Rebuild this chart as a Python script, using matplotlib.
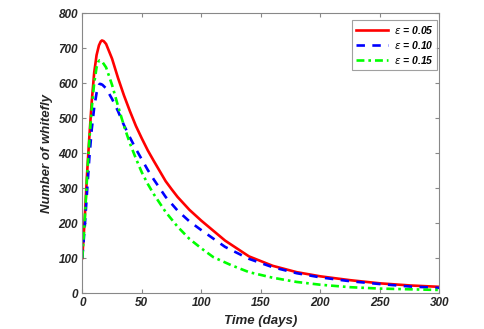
import matplotlib
matplotlib.use("Agg")
import matplotlib.pyplot as plt

# values
t_red = [0, 2, 4, 6, 8, 10, 12, 14, 15.5, 16.5, 18, 20, 25, 30, 35, 40, 45, 50, 55, 60, 70, 75, 80, 90, 100,
         120, 140, 160, 180, 200, 225, 250, 275, 300]
n_red = [100, 210, 340, 450, 550, 630, 680, 708, 719, 722, 720, 712, 670, 615, 565, 520, 478, 442, 408, 378, 320, 297, 275, 238, 207,
         150, 105, 78, 60, 48, 37, 28, 22, 18]

t_blue = [0, 2, 4, 6, 8, 10, 12, 14, 14.8, 16, 17, 20, 25, 30, 35, 40, 45, 50, 55, 60, 70, 80, 90, 100,
          120, 140, 160, 180, 200, 225, 250, 275, 300]
n_blue = [100, 185, 290, 390, 470, 530, 572, 595, 598, 597, 595, 585, 555, 520, 480, 445, 412, 382, 352, 325, 275, 236, 205, 180,
          132, 98, 74, 57, 45, 34, 26, 19, 15]

t_green = [0, 2, 4, 6, 8, 10, 12, 13.5, 14.5, 15.5, 17, 20, 25, 30, 35, 40, 45, 50, 55, 60, 70, 80, 90, 100, 110,
           125, 140, 160, 180, 200, 225, 250, 275, 300]
n_green = [100, 205, 330, 440, 530, 600, 645, 661, 665, 664, 660, 645, 595, 535, 478, 428, 385, 345, 312, 283, 232, 190, 155, 128, 103,
           80, 60, 44, 32, 24, 17, 13, 11, 9]

labels = [r"$\epsilon$ = 0.05", r"$\epsilon$ = 0.10", r"$\epsilon$ = 0.15"]

plt.rcParams['font.family'] = ['Liberation Sans', 'DejaVu Sans']
plt.rcParams['mathtext.fontset'] = 'dejavusans'

fig = plt.figure(figsize=(4.84, 3.29), dpi=100)
ax = fig.add_axes([0.17, 0.109, 0.738, 0.851])

ax.plot(t_red, n_red, color=(1, 0, 0), lw=1.9, ls='-', label=labels[0])
ax.plot(t_blue, n_blue, color=(0, 0, 1), lw=1.9, ls=(0, (3.2, 2.8)), label=labels[1])
ax.plot(t_green, n_green, color=(0, 1, 0), lw=1.9, ls=(0, (3, 1.5, 1, 1.5)), label=labels[2])

ax.set_xlim(0, 300)
ax.set_ylim(0, 800)
ax.set_xticks(range(0, 301, 50))
ax.set_yticks(range(0, 801, 100))
ax.tick_params(direction='in', top=True, right=True, length=3, color='#888888', labelsize=8.5, pad=3)
for lab in ax.get_xticklabels() + ax.get_yticklabels():
    lab.set_fontweight('bold')
    lab.set_fontstyle('italic')
    lab.set_color('#262626')
for sp in ax.spines.values():
    sp.set_color('#888888')
    sp.set_linewidth(0.8)

ax.set_xlabel("Time (days)", fontsize=9.5, fontweight='bold', fontstyle='italic', labelpad=4, color='#262626')
ax.set_ylabel("Number of whitefly", fontsize=9.5, fontweight='bold', fontstyle='italic', labelpad=4, color='#262626')

leg = ax.legend(loc='upper right', bbox_to_anchor=(0.993, 0.975), borderaxespad=0,
                fontsize=7.5, handlelength=3.1, fancybox=False,
                labelspacing=0.3, handletextpad=0.5, borderpad=0.35)
leg.get_frame().set_edgecolor('#888888')
leg.get_frame().set_linewidth(0.8)
for txt in leg.get_texts():
    txt.set_fontweight('bold')
    txt.set_fontstyle('italic')

fig.savefig("out.png", dpi=100)
